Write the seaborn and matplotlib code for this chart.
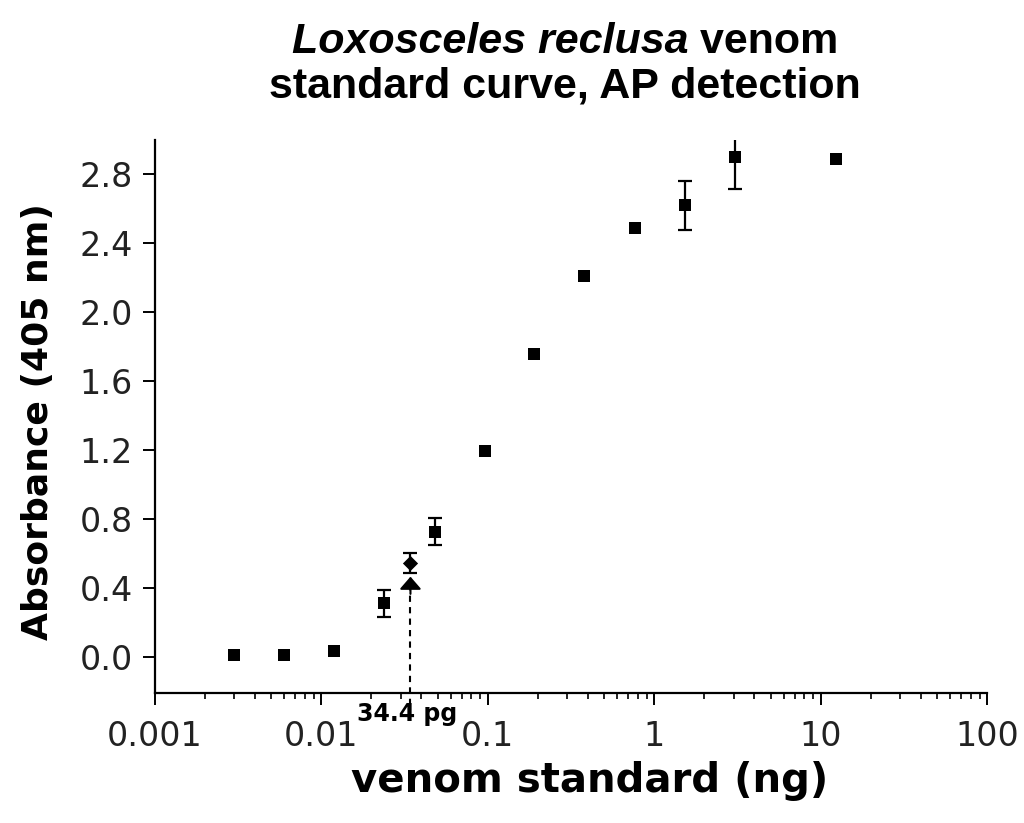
import numpy as np
import pandas as pd
import matplotlib
matplotlib.use("Agg")
import matplotlib.pyplot as plt
import seaborn as sns
from matplotlib.ticker import LogLocator, FixedLocator, FixedFormatter, NullFormatter

# ---- data ----
venom_ng = [0.003, 0.006, 0.012, 0.024, 0.048, 0.096, 0.19, 0.38, 0.77, 1.54, 3.07, 12.3]
absorbance = [0.01, 0.01, 0.036, 0.31, 0.725, 1.195, 1.755, 2.21, 2.49, 2.62, 2.90, 2.89]
abs_err = [0.0, 0.0, 0.0, 0.08, 0.078, 0.0, 0.0, 0.0, 0.0, 0.14, 0.185, 0.0]

lod_ng = [0.0344]
lod_abs = [0.545]
lod_err = [0.06]
lod_arrow_top = [0.465]
lod_label = "34.4 pg"

x_ticks = [0.001, 0.01, 0.1, 1, 10, 100]
x_tick_labels = ["0.001", "0.01", "0.1", "1", "10", "100"]
y_ticks = [0.0, 0.4, 0.8, 1.2, 1.6, 2.0, 2.4, 2.8]
y_tick_labels = ["0.0", "0.4", "0.8", "1.2", "1.6", "2.0", "2.4", "2.8"]

df = pd.DataFrame({"venom": venom_ng, "absorbance": absorbance, "err": abs_err})
df_lod = pd.DataFrame({"venom": lod_ng, "absorbance": lod_abs, "err": lod_err})

sns.set_theme(style="ticks")
plt.rcParams["font.family"] = ["Liberation Sans", "DejaVu Sans"]

fig = plt.figure(figsize=(10.24, 8.23), dpi=100)
ax = fig.add_axes([0.151, 0.158, 0.813, 0.672])

# error bars
eb = df[df["err"] > 0]
ax.errorbar(eb["venom"], eb["absorbance"], yerr=eb["err"], fmt="none",
            ecolor="black", elinewidth=1.6, capsize=5, capthick=1.6, zorder=2)
ax.errorbar(df_lod["venom"], df_lod["absorbance"], yerr=df_lod["err"], fmt="none",
            ecolor="black", elinewidth=1.6, capsize=5, capthick=1.6, zorder=2)

sns.scatterplot(data=df, x="venom", y="absorbance", marker="s", s=80,
                color="black", edgecolor="black", linewidth=0, ax=ax, zorder=3)
sns.scatterplot(data=df_lod, x="venom", y="absorbance", marker="D", s=60,
                color="black", edgecolor="black", linewidth=0, ax=ax, zorder=3)

ax.set_xscale("log")
ax.set_xlim(0.001, 100)
ax.set_ylim(-0.21, 3.0)

# dashed line + arrowhead marking detection limit
ax.plot([lod_ng[0], lod_ng[0]], [-0.28, lod_arrow_top[0] - 0.05], color="black",
        lw=1.5, linestyle=(0, (3, 2.5)), clip_on=False, zorder=4)
ax.annotate("", xy=(lod_ng[0], lod_arrow_top[0]), xytext=(lod_ng[0], lod_arrow_top[0] - 0.1),
            arrowprops=dict(arrowstyle="-|>,head_length=0.38,head_width=0.33",
                            mutation_scale=20, color="black", lw=1.5,
                            shrinkA=0, shrinkB=0),
            annotation_clip=False, zorder=4)
ax.text(lod_ng[0] * 0.955, -0.265, lod_label, ha="center", va="top",
        fontsize=17, fontweight="bold", family=["DejaVu Sans"], clip_on=False,
        color="black", zorder=5)

ax.xaxis.set_major_locator(FixedLocator(x_ticks))
ax.xaxis.set_major_formatter(FixedFormatter(x_tick_labels))
ax.xaxis.set_minor_locator(LogLocator(base=10, subs=np.arange(2, 10), numticks=20))
ax.xaxis.set_minor_formatter(NullFormatter())
ax.yaxis.set_major_locator(FixedLocator(y_ticks))
ax.yaxis.set_major_formatter(FixedFormatter(y_tick_labels))

for lab in ax.get_xticklabels() + ax.get_yticklabels():
    lab.set_family(["DejaVu Sans"])

ax.tick_params(axis="x", which="major", direction="out", length=8.5, width=1.4,
               labelsize=24, pad=11, color="black", labelcolor="#222222")
ax.tick_params(axis="x", which="minor", direction="out", length=4.5, width=1.2, color="black")
ax.tick_params(axis="y", which="major", direction="out", length=8.5, width=1.4,
               labelsize=24, pad=7, color="black", labelcolor="#222222")

for s in ["top", "right"]:
    ax.spines[s].set_visible(False)
for s in ["left", "bottom"]:
    ax.spines[s].set_linewidth(1.6)
    ax.spines[s].set_color("black")

ax.set_xlabel("venom standard (ng)", fontsize=29, fontweight="bold",
              family=["DejaVu Sans"], color="black")
ax.xaxis.set_label_coords(0.523, -0.123)
ax.set_ylabel("Absorbance (405 nm)", fontsize=26, fontweight="bold",
              family=["DejaVu Sans"], color="black")
ax.yaxis.set_label_coords(-0.12, 0.49)

# title, first line mixes italic species name and upright word
fig.canvas.draw()
renderer = fig.canvas.get_renderer()
title_size = 31
t1a = fig.text(0, 0, "Loxosceles reclusa", fontsize=title_size, fontweight="bold",
               style="italic", color="black", va="center", ha="left")
t1b = fig.text(0, 0, " venom", fontsize=title_size, fontweight="bold",
               color="black", va="center", ha="left")
wa = t1a.get_window_extent(renderer).width
wb = t1b.get_window_extent(renderer).width
W = fig.bbox.width
cx = 0.552 * W
x0 = cx - (wa + wb) / 2
t1a.set_position((x0 / W, 0.949))
t1b.set_position(((x0 + wa) / W, 0.949))
fig.text(0.552, 0.895, "standard curve, AP detection",
         ha="center", va="center", fontsize=title_size, fontweight="bold", color="black")

fig.savefig("out.png", dpi=100, facecolor="white")
